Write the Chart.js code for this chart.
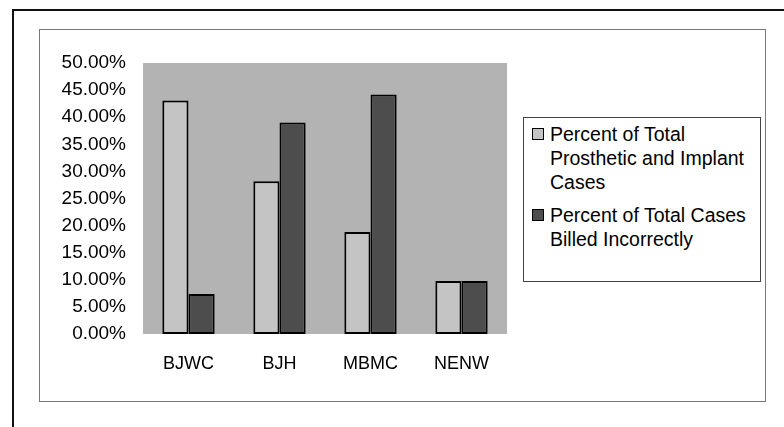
<!DOCTYPE html>
<html lang="en">
<head>
    <meta charset="UTF-8">
    <title>Prosthetic and Implant Cases</title>
    <script src="https://cdn.jsdelivr.net/npm/chart.js"></script>
    <style>
        html, body {
            margin: 0;
            padding: 0;
            background: #fff;
            width: 784px;
            height: 427px;
            overflow: hidden;
            font-family: "Liberation Sans", Arial, sans-serif;
        }

        #wrap {
            position: relative;
            width: 784px;
            height: 427px;
        }

        canvas {
            position: absolute;
            left: 0;
            top: 0;
        }

        .frame-top {
            position: absolute;
            left: 12px;
            top: 9px;
            width: 772px;
            height: 2px;
            background: #111;
        }

        .frame-left {
            position: absolute;
            left: 12px;
            top: 9px;
            width: 2px;
            height: 418px;
            background: #111;
        }

        .inner-box {
            position: absolute;
            left: 39px;
            top: 29px;
            width: 725px;
            height: 371px;
            border: 1px solid #777;
        }

        .legend {
            position: absolute;
            left: 523px;
            top: 117px;
            width: 236px;
            height: 163px;
            border: 1px solid #444;
            background: #fff;
            font-size: 19.5px;
            line-height: 24px;
            color: #000;
        }

        .legend .item {
            position: relative;
            padding-left: 26px;
        }

        .legend .item:first-child {
            margin-top: 4px;
        }

        .legend .item + .item {
            margin-top: 9px;
        }

        .legend .swatch {
            position: absolute;
            left: 8px;
            top: 6px;
            width: 10px;
            height: 10px;
            border: 1px solid #000;
        }
    </style>
</head>
<body>
    <div id="wrap">
        <div class="frame-top"></div>
        <div class="frame-left"></div>
        <div class="inner-box"></div>
        <canvas id="billingChart" width="784" height="427"></canvas>
        <div class="legend">
            <div class="item"><span class="swatch" style="background:#c4c4c4"></span>Percent of Total<br>Prosthetic and Implant<br>Cases</div>
            <div class="item"><span class="swatch" style="background:#4d4d4d"></span>Percent of Total Cases<br>Billed Incorrectly</div>
        </div>
    </div>

    <script>
        // data
        const hospitals = ['BJWC', 'BJH', 'MBMC', 'NENW'];
        const pctProstheticCases = [43.1, 28.2, 18.8, 9.8];
        const pctBilledIncorrectly = [7.4, 39.0, 44.2, 9.8];
        const yTicks = [0, 5, 10, 15, 20, 25, 30, 35, 40, 45, 50];

        // grey plot background
        const plotBg = {
            id: 'plotBg',
            beforeDatasetsDraw(chart) {
                const { ctx, chartArea: a } = chart;
                ctx.save();
                ctx.fillStyle = '#b3b3b3';
                ctx.fillRect(a.left, a.top, a.right - a.left, a.bottom - a.top);
                ctx.restore();
            }
        };

        const billingCtx = document.getElementById('billingChart').getContext('2d');
        new Chart(billingCtx, {
            type: 'bar',
            data: {
                labels: hospitals,
                datasets: [
                    { label: 'Percent of Total Prosthetic and Implant Cases', data: pctProstheticCases, backgroundColor: '#c4c4c4', borderColor: '#000', borderWidth: 2, borderSkipped: false },
                    { label: 'Percent of Total Cases Billed Incorrectly', data: pctBilledIncorrectly, backgroundColor: '#4d4d4d', borderColor: '#000', borderWidth: 2, borderSkipped: false }
                ]
            },
            options: {
                responsive: false,
                animation: false,
                layout: { padding: { left: 0, top: 63, right: 277, bottom: 0 } },
                datasets: { bar: { barPercentage: 1, categoryPercentage: 0.575 } },
                plugins: { legend: { display: false }, tooltip: { enabled: false } },
                scales: {
                    x: {
                        grid: { display: false },
                        border: { display: false },
                        ticks: { color: '#000', padding: 11, font: { family: '"Liberation Sans", Arial', size: 18 } },
                        afterFit(scale) { scale.height = 93; }
                    },
                    y: {
                        min: 0,
                        max: 50,
                        grid: { display: false },
                        border: { display: false },
                        afterBuildTicks(scale) { scale.ticks = yTicks.map(v => ({ value: v })); },
                        ticks: {
                            color: '#000',
                            padding: 9,
                            font: { family: '"Liberation Sans", Arial', size: 19 },
                            callback: v => v.toFixed(2) + '%'
                        },
                        afterFit(scale) { scale.width = 143; }
                    }
                }
            },
            plugins: [plotBg]
        });
    </script>
</body>
</html>
